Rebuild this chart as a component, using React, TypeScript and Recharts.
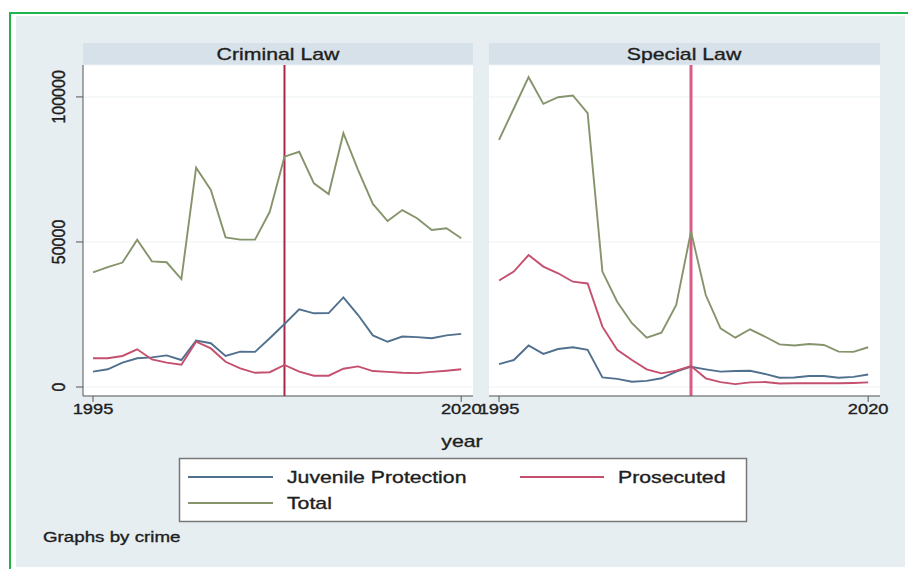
import React from "react";
import { LineChart, Line, XAxis, YAxis, CartesianGrid, ReferenceLine } from "recharts";

const years = [
  1995, 1996, 1997, 1998, 1999, 2000, 2001, 2002, 2003, 2004, 2005, 2006, 2007,
  2008, 2009, 2010, 2011, 2012, 2013, 2014, 2015, 2016, 2017, 2018, 2019, 2020,
];

const criminalJuvenile = [
  5300, 6100, 8400, 9900, 10200, 10900, 9300, 16000, 15100, 10700, 12200, 12100, 16800,
  21700, 26800, 25400, 25500, 30900, 24800, 17800, 15600, 17400, 17200, 16800, 17800, 18300,
];
const criminalProsecuted = [
  9900, 9900, 10700, 13000, 9500, 8400, 7700, 15600, 13300, 8700, 6400, 4900, 5100,
  7600, 5300, 3900, 3900, 6300, 7100, 5500, 5200, 4900, 4800, 5200, 5600, 6100,
];
const criminalTotal = [
  39500, 41300, 42900, 50800, 43300, 43000, 37200, 75600, 67900, 51600, 50800, 50800, 60400,
  79400, 81100, 70200, 66500, 87500, 74800, 63100, 57200, 61000, 58200, 54100, 54700, 51300,
];

const specialJuvenile = [
  7900, 9300, 14300, 11400, 13100, 13700, 12800, 3300, 2800, 1800, 2100, 3000, 5300,
  7000, 6100, 5300, 5500, 5600, 4500, 3200, 3300, 3800, 3800, 3200, 3500, 4300,
];
const specialProsecuted = [
  36700, 39800, 45500, 41500, 39200, 36300, 35700, 20800, 12800, 9300, 6100, 4700, 5600,
  7200, 3000, 1700, 1000, 1600, 1700, 1200, 1300, 1300, 1300, 1300, 1400, 1600,
];
const specialTotal = [
  85200, 96000, 106800, 97600, 99900, 100500, 94400, 39800, 29400, 22000, 17000, 18700, 28300,
  53600, 31700, 20200, 17000, 19900, 17400, 14700, 14300, 14800, 14500, 12200, 12100, 13700,
];

const yTicks = [0, 50000, 100000];
const xTicks = [1995, 2020];
const cutoffYear = 2008;

const criminalData = years.map((year, i) => ({
  year,
  juvenile: criminalJuvenile[i],
  prosecuted: criminalProsecuted[i],
  total: criminalTotal[i],
}));
const specialData = years.map((year, i) => ({
  year,
  juvenile: specialJuvenile[i],
  prosecuted: specialProsecuted[i],
  total: specialTotal[i],
}));

const BLUE = "#51708e";
const RED = "#c4506e";
const GREEN = "#86946c";
const TEXT = "#1e1e1e";
const AXIS = "#555";
const STRETCH = 1.25;

// stata text looks a bit heavier than plain Liberation Sans
const heavy = { stroke: TEXT, strokeWidth: 0.35 };

function XTick({ x, y, payload }: any) {
  return (
    <text
      transform={`translate(${x},${y + 5}) scale(1.22,1)`}
      textAnchor="middle"
      dominantBaseline="central"
      fontSize={15}
      fill={TEXT}
      {...heavy}
    >
      {payload.value}
    </text>
  );
}

function YTick({ x, y, payload }: any) {
  return (
    <text
      transform={`translate(${x - 16},${y}) rotate(-90) scale(1,1.15)`}
      textAnchor="middle"
      dy="0.36em"
      fontSize={16}
      fill={TEXT}
      {...heavy}
    >
      {payload.value}
    </text>
  );
}

function Panel({
  data, left, width, withY, vColor, vWidth,
}: { data: any[]; left: number; width: number; withY: boolean; vColor: string; vWidth: number }) {
  return (
    <div style={{ position: "absolute", left, top: 65 }}>
      <LineChart width={width} height={361} data={data} margin={{ top: 0, right: 0, bottom: 0, left: 0 }}>
        <CartesianGrid vertical={false} stroke="#edf1f4" fill="#ffffff" />
        <XAxis
          dataKey="year"
          type="number"
          domain={[1994.32, 2020.8]}
          allowDataOverflow
          ticks={xTicks}
          interval={0}
          height={30}
          tickSize={6}
          stroke={AXIS}
          tick={<XTick />}
        />
        <YAxis
          type="number"
          domain={[-3100, 111000]}
          allowDataOverflow
          ticks={yTicks}
          interval={0}
          width={67}
          hide={!withY}
          tickSize={7}
          stroke={AXIS}
          tick={<YTick />}
        />
        <ReferenceLine x={cutoffYear} stroke={vColor} strokeWidth={vWidth} />
        <Line type="linear" dataKey="juvenile" stroke={BLUE} strokeWidth={1.9} dot={false} isAnimationActive={false} />
        <Line type="linear" dataKey="prosecuted" stroke={RED} strokeWidth={1.9} dot={false} isAnimationActive={false} />
        <Line type="linear" dataKey="total" stroke={GREEN} strokeWidth={1.9} dot={false} isAnimationActive={false} />
      </LineChart>
    </div>
  );
}

function Label({ x, y, text, size = 17, anchor = "middle" }: { x: number; y: number; text: string; size?: number; anchor?: string }) {
  return (
    <text
      transform={`translate(${x},${y}) scale(${STRETCH},1)`}
      textAnchor={anchor as any}
      dominantBaseline="central"
      fontSize={size}
      fill={TEXT}
      {...heavy}
    >
      {text}
    </text>
  );
}

export default function App() {
  return (
    <div
      style={{
        position: "absolute", left: 0, top: 0, width: 908, height: 569, overflow: "hidden",
        background: "#ffffff", fontFamily: "'Liberation Sans', Arial, sans-serif",
      }}
    >
      <style>{`.recharts-surface { overflow: visible; } .recharts-wrapper { overflow: visible; }`}</style>
      <svg width={908} height={569} style={{ position: "absolute", left: 0, top: 0 }}>
        <rect x={16} y={16} width={889} height={551} fill="#e6eef2" />
        <rect x={10} y={13} width={1000} height={1000} fill="none" stroke="#1fb34d" strokeWidth={2} />
        <rect x={83} y={43} width={390} height={22} fill="#d6e1e9" />
        <rect x={489} y={43} width={391} height={22} fill="#d6e1e9" />
      </svg>

      <Panel data={criminalData} left={16} width={457} withY vColor="#a8284a" vWidth={2} />
      <Panel data={specialData} left={489} width={391} withY={false} vColor="#d85c86" vWidth={3} />

      <svg width={908} height={569} style={{ position: "absolute", left: 0, top: 0, pointerEvents: "none" }}>
        <Label x={278} y={54} text="Criminal Law" />
        <Label x={684} y={54} text="Special Law" />
        <Label x={462} y={441} text="year" />
        <rect x={179.5} y={458.5} width={567} height={63} fill="#ffffff" stroke="#777" strokeWidth={1.5} />
        <line x1={188} x2={273} y1={477} y2={477} stroke={BLUE} strokeWidth={1.9} />
        <Label x={287} y={477} text="Juvenile Protection" anchor="start" />
        <line x1={520} x2={604} y1={477} y2={477} stroke={RED} strokeWidth={1.9} />
        <Label x={618} y={477} text="Prosecuted" anchor="start" />
        <line x1={188} x2={273} y1={503} y2={503} stroke={GREEN} strokeWidth={1.9} />
        <Label x={287} y={503} text="Total" anchor="start" />
        <Label x={43} y={537} text="Graphs by crime" size={15} anchor="start" />
      </svg>
    </div>
  );
}
